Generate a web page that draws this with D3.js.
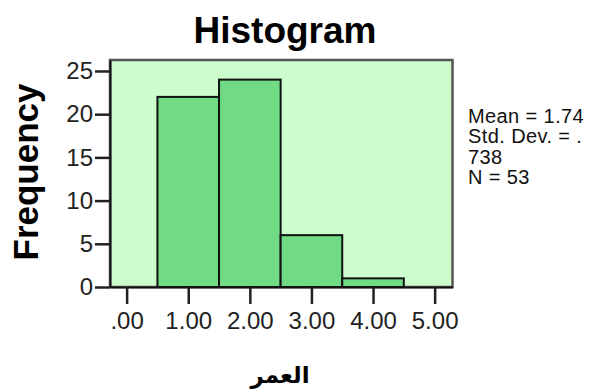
<!DOCTYPE html>
<html>
<head>
<meta charset="utf-8">
<script src="https://cdn.jsdelivr.net/npm/d3@7"></script>
<style>
  body { margin: 0; background: #fff; }
  text { font-family: "Liberation Sans", Arial, sans-serif; }
</style>
</head>
<body>
<div id="chart"></div>
<script>
// histogram bins (age codes) and counts
var binStarts = [0.5, 1.5, 2.5, 3.5];
var binEnds = [1.5, 2.5, 3.5, 4.5];
var frequencies = [22, 24, 6, 1];
var xTicks = [0, 1, 2, 3, 4, 5];
var yTicks = [0, 5, 10, 15, 20, 25];
var statLines = ["Mean = 1.74", "Std. Dev. = .", "738", "N = 53"];

var width = 598, height = 389;
var plot = {left: 110, right: 452.5, top: 60, bottom: 287};

var svg = d3.select("#chart")
    .append("svg")
    .attr("width", width)
    .attr("height", height);

var x = d3.scaleLinear()
    .domain([-0.27, 5.29])
    .range([plot.left, plot.right]);

var y = d3.scaleLinear()
    .domain([0, 26.27])
    .range([plot.bottom, plot.top]);

// plot background
svg.append("rect")
    .attr("x", plot.left)
    .attr("y", plot.top)
    .attr("width", plot.right - plot.left)
    .attr("height", plot.bottom - plot.top)
    .attr("fill", "#ccfdcc")
    .attr("stroke", "#555")
    .attr("stroke-width", 2.5);

var bins = binStarts.map(function(s, i) { return [s, binEnds[i], frequencies[i]]; });

svg.selectAll(".bar")
    .data(bins)
    .join("rect")
    .attr("class", "bar")
    .attr("x", d => x(d[0]))
    .attr("y", d => y(d[2]))
    .attr("width", d => x(d[1]) - x(d[0]))
    .attr("height", d => y(0) - y(d[2]))
    .attr("fill", "#70db84")
    .attr("stroke", "#111")
    .attr("stroke-width", 2);

var fmt = function(v) { return d3.format(".2f")(v).replace(/^0/, ""); };

var xAxis = svg.append("g")
    .attr("transform", "translate(0," + plot.bottom + ")")
    .call(d3.axisBottom(x).tickValues(xTicks).tickFormat(fmt).tickSize(17).tickPadding(8).tickSizeOuter(0));

var yAxis = svg.append("g")
    .attr("transform", "translate(" + plot.left + ",0)")
    .call(d3.axisLeft(y).tickValues(yTicks).tickSize(15).tickPadding(2).tickSizeOuter(0));

[xAxis, yAxis].forEach(function(g) {
    g.select(".domain").attr("stroke", "#111").attr("stroke-width", 2);
    g.selectAll(".tick line").attr("stroke", "#222").attr("stroke-width", 2.5);
    g.selectAll("text")
        .attr("fill", "#222")
        .style("font-size", "24px")
        .style("font-family", "'Liberation Sans', Arial, sans-serif");
});

// title
svg.append("text")
    .attr("x", 285)
    .attr("y", 43)
    .attr("text-anchor", "middle")
    .style("font-size", "37px")
    .style("font-weight", "bold")
    .text("Histogram");

// y title
svg.append("text")
    .attr("transform", "translate(38,172) rotate(-90)")
    .attr("text-anchor", "middle")
    .style("font-size", "35px")
    .style("font-weight", "bold")
    .text("Frequency");

// x title
svg.append("text")
    .attr("x", 280)
    .attr("y", 383)
    .attr("text-anchor", "middle")
    .style("font-family", "'DejaVu Sans', sans-serif")
    .style("font-size", "23px")
    .style("font-weight", "bold")
    .text("العمر");

// statistics box
svg.append("g")
    .selectAll("text")
    .data(statLines)
    .join("text")
    .attr("x", 468)
    .attr("y", (d, i) => 122.5 + i * 20.5)
    .style("font-size", "20px")
    .style("letter-spacing", "0.4px")
    .attr("fill", "#111")
    .text(d => d);
</script>
</body>
</html>
